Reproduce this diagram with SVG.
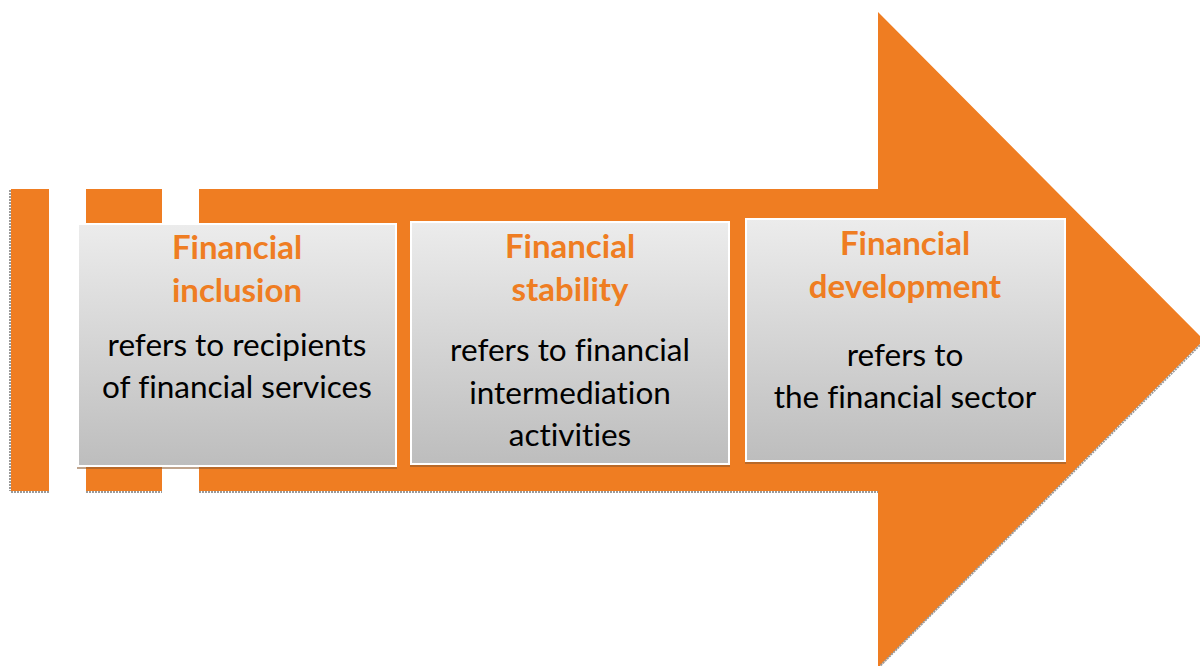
<svg xmlns="http://www.w3.org/2000/svg" width="1200" height="666" viewBox="0 0 1200 666">
  <defs>
    <linearGradient id="boxFill" x1="0" y1="0" x2="0" y2="1">
      <stop offset="0" stop-color="#ececec"/>
      <stop offset="1" stop-color="#bdbdbd"/>
    </linearGradient>
    <style>
      .band { fill: #ef7d22; }
      .edge { fill: none; stroke: #9a9a9a; stroke-width: 2; stroke-dasharray: 2 1; }
      .box { fill: url(#boxFill); stroke: #ffffff; stroke-width: 2; }
      .boxShadow { fill: #8a5a30; opacity: 0.55; }
      .title { font-family: Lato, "Liberation Sans", sans-serif; font-weight: bold; font-size: 33px; fill: #ef7d22; text-anchor: middle; font-variant-ligatures: none; }
      .body { font-family: Lato, "Liberation Sans", sans-serif; font-size: 31.5px; fill: #000000; text-anchor: middle; font-variant-ligatures: none; }
    </style>
  </defs>

  <!-- background -->
  <rect x="0" y="0" width="1200" height="666" fill="#ffffff"/>

  <!-- striped arrow -->
  <g id="arrow">
    <rect class="band" x="11" y="189" width="38" height="302"/>
    <rect class="band" x="86" y="189" width="76" height="302"/>
    <polygon class="band" points="199,189 878,189 878,12 1204,340 878,668 878,491 199,491"/>
    <line class="edge" x1="11" y1="492" x2="49" y2="492"/>
    <line class="edge" x1="86" y1="492" x2="162" y2="492"/>
    <line class="edge" x1="199" y1="492" x2="878" y2="492"/>
    <line class="edge" x1="1204" y1="341" x2="880" y2="666"/>
    <line class="edge" x1="10" y1="190" x2="10" y2="491"/>
  </g>

  <!-- box 1 -->
  <g id="inclusion">
    <rect class="boxShadow" x="77" y="466" width="320" height="3"/>
    <rect class="box" x="78" y="224" width="318" height="242"/>
    <text class="title" x="237" y="259">Financial</text>
    <text class="title" x="237" y="302">inclusion</text>
    <text class="body" x="237" y="356">refers to recipients</text>
    <text class="body" x="237" y="398">of financial services</text>
  </g>

  <!-- box 2 -->
  <g id="stability">
    <rect class="boxShadow" x="410" y="464" width="320" height="3"/>
    <rect class="box" x="411" y="222" width="318" height="242"/>
    <text class="title" x="570" y="258">Financial</text>
    <text class="title" x="570" y="301">stability</text>
    <text class="body" x="570" y="361">refers to financial</text>
    <text class="body" x="570" y="404">intermediation</text>
    <text class="body" x="570" y="446">activities</text>
  </g>

  <!-- box 3 -->
  <g id="development">
    <rect class="boxShadow" x="745" y="461" width="321" height="3"/>
    <rect class="box" x="746" y="219" width="319" height="242"/>
    <text class="title" x="905" y="255">Financial</text>
    <text class="title" x="905" y="298">development</text>
    <text class="body" x="905" y="366">refers to</text>
    <text class="body" x="905" y="408">the financial sector</text>
  </g>

  <g id="connectors"/>
</svg>
